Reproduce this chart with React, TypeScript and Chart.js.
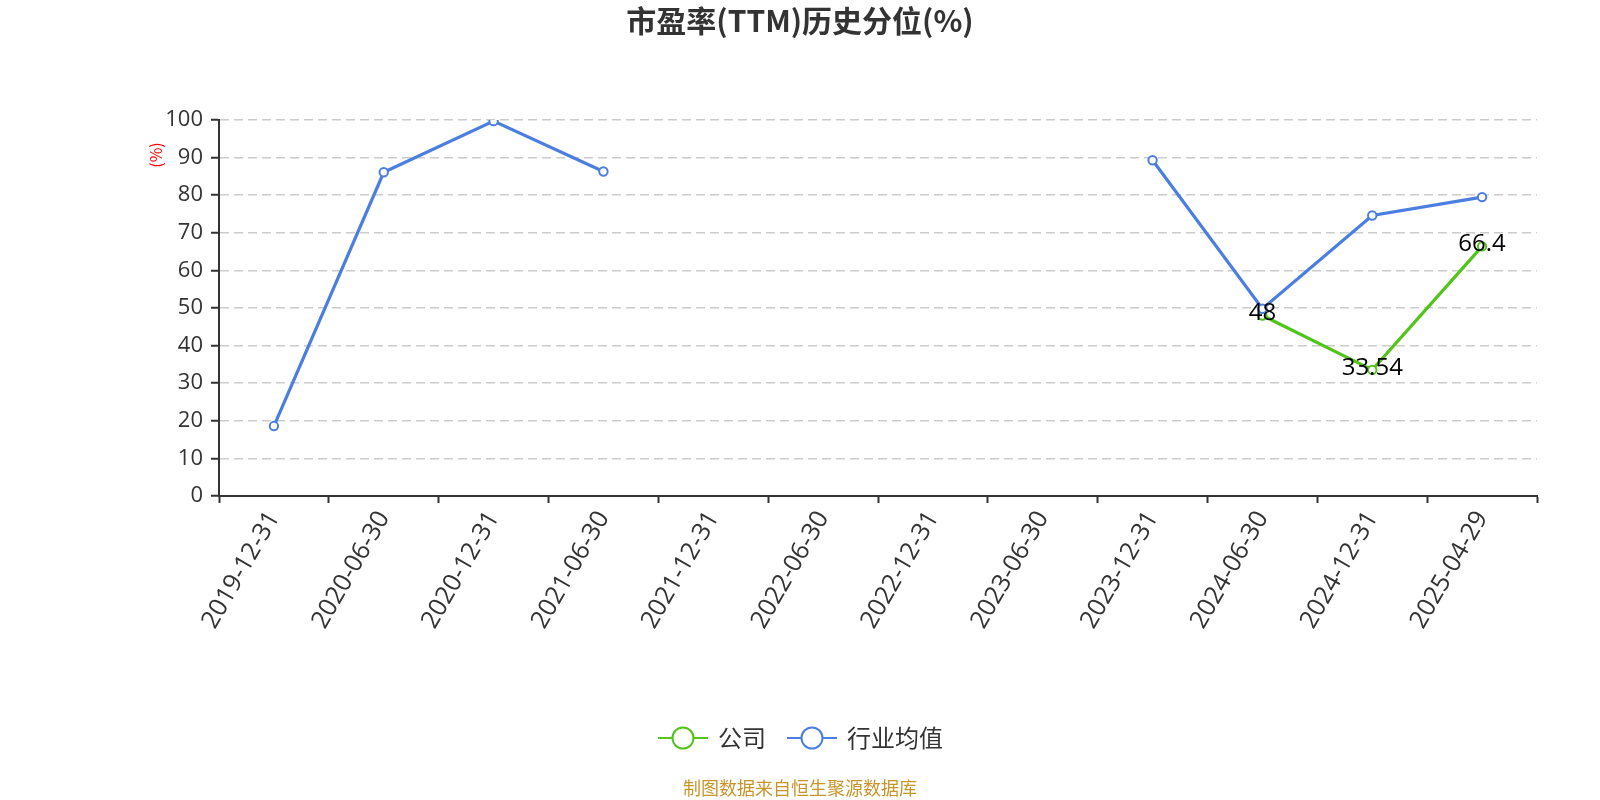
import React, { useEffect, useRef } from "react";
import { Chart, registerables } from "chart.js";

Chart.register(...registerables);

const categories = [
  "2019-12-31", "2020-06-30", "2020-12-31", "2021-06-30", "2021-12-31", "2022-06-30",
  "2022-12-31", "2023-06-30", "2023-12-31", "2024-06-30", "2024-12-31", "2025-04-29",
];
const companyValues: (number | null)[] = [null, null, null, null, null, null, null, null, null, 48, 33.54, 66.4];
const industryValues: (number | null)[] = [18.6, 86.1, 99.7, 86.3, null, null, null, null, 89.3, 49.8, 74.6, 79.5];
const yTicks = [0, 10, 20, 30, 40, 50, 60, 70, 80, 90, 100];

const TITLE = "市盈率(TTM)历史分位(%)";
const SOURCE = "制图数据来自恒生聚源数据库";
const GREEN = "#52c41a";
const BLUE = "#4a7fe0";
const FONT = "'Open Sans', 'Noto Sans CJK SC', sans-serif";
const CJK = "'Noto Sans CJK SC', sans-serif";

export default function App() {
  const ref = useRef<HTMLCanvasElement | null>(null);
  useEffect(() => {
    document.body.style.margin = "0";
    const canvas = ref.current!;
    const overlay = {
      id: "overlay",
      afterDatasetsDraw(chart: any) {
        const ctx = chart.ctx;
        const meta = chart.getDatasetMeta(1);
        ctx.save();
        ctx.font = `24px ${FONT}`;
        ctx.fillStyle = "#000";
        ctx.textAlign = "center";
        ctx.textBaseline = "middle";
        meta.data.forEach((pt: any, i: number) => {
          const v = companyValues[i];
          if (v == null) return;
          ctx.fillText(String(v), pt.x, pt.y - 2);
        });
        ctx.restore();
      },
      afterDraw(chart: any) {
        const ctx = chart.ctx;
        ctx.save();
        ctx.font = `bold 30px ${CJK}`;
        ctx.fillStyle = "#333";
        ctx.textAlign = "center";
        ctx.textBaseline = "middle";
        ctx.fillText(TITLE, 800, 21);
        ctx.save();
        ctx.translate(156, 155);
        ctx.rotate(-Math.PI / 2);
        ctx.font = `16px ${CJK}`;
        ctx.fillStyle = "#ff0000";
        ctx.fillText("(%)", 0, 0);
        ctx.restore();
        const items = [
          { label: "公司", color: GREEN, x: 658 },
          { label: "行业均值", color: BLUE, x: 787 },
        ];
        const ly = 738;
        items.forEach((it) => {
          ctx.strokeStyle = it.color;
          ctx.lineWidth = 2;
          ctx.beginPath();
          ctx.moveTo(it.x, ly);
          ctx.lineTo(it.x + 50, ly);
          ctx.stroke();
          ctx.beginPath();
          ctx.arc(it.x + 25, ly, 10.5, 0, Math.PI * 2);
          ctx.fillStyle = "#fff";
          ctx.fill();
          ctx.stroke();
          ctx.font = `24px ${CJK}`;
          ctx.fillStyle = "#333";
          ctx.textAlign = "left";
          ctx.fillText(it.label, it.x + 60, ly);
        });
        ctx.font = `18px ${CJK}`;
        ctx.fillStyle = "#c8952a";
        ctx.textAlign = "center";
        ctx.fillText(SOURCE, 800, 788);
        ctx.restore();
      },
    };
    const chart = new Chart(canvas, {
      type: "line",
      data: {
        labels: categories,
        datasets: [
          {
            label: "行业均值",
            data: industryValues,
            borderColor: BLUE,
            backgroundColor: "#fff",
            borderWidth: 3.2,
            pointRadius: 4.2,
            pointBorderWidth: 2,
            pointBackgroundColor: "#fff",
            pointBorderColor: BLUE,
            spanGaps: false,
            order: 0,
          },
          {
            label: "公司",
            data: companyValues,
            borderColor: GREEN,
            backgroundColor: "#fff",
            borderWidth: 3.2,
            pointRadius: 4.2,
            pointBorderWidth: 2,
            pointBackgroundColor: "#fff",
            pointBorderColor: GREEN,
            spanGaps: false,
            order: 1,
          },
        ],
      },
      options: {
        responsive: false,
        animation: false,
        layout: { padding: { top: 120, right: 63, left: 0, bottom: 0 } },
        plugins: { legend: { display: false }, title: { display: false }, tooltip: { enabled: false } },
        scales: {
          x: {
            type: "category",
            offset: true,
            grid: {
              display: true,
              drawOnChartArea: false,
              offset: true,
              tickLength: 7,
              tickColor: "#333",
              tickWidth: 2,
            },
            border: { display: true, color: "#333", width: 2 },
            ticks: {
              autoSkip: false,
              minRotation: 60,
              maxRotation: 60,
              padding: 3,
              color: "#333",
              font: { size: 25, family: FONT },
            },
            afterFit(scale: any) {
              scale.height = 304;
            },
          },
          y: {
            min: 0,
            max: 100,
            afterBuildTicks(scale: any) {
              scale.ticks = yTicks.map((v) => ({ value: v }));
            },
            grid: {
              color: "#cccccc",
              lineWidth: 1.5,
              tickLength: 8,
              tickColor: "#333",
              tickWidth: 2,
              tickBorderDash: [],
            },
            border: { display: true, color: "#333", width: 2, dash: [9, 5] },
            ticks: {
              padding: 8,
              color: "#333",
              font: { size: 22, family: FONT },
            },
            afterFit(scale: any) {
              scale.width = 219;
            },
          },
        },
      },
      plugins: [overlay],
    } as any);
    return () => chart.destroy();
  }, []);
  return (
    <div style={{ position: "fixed", left: 0, top: 0, width: 1600, height: 800 }}>
      <canvas ref={ref} width={1600} height={800} />
    </div>
  );
}
